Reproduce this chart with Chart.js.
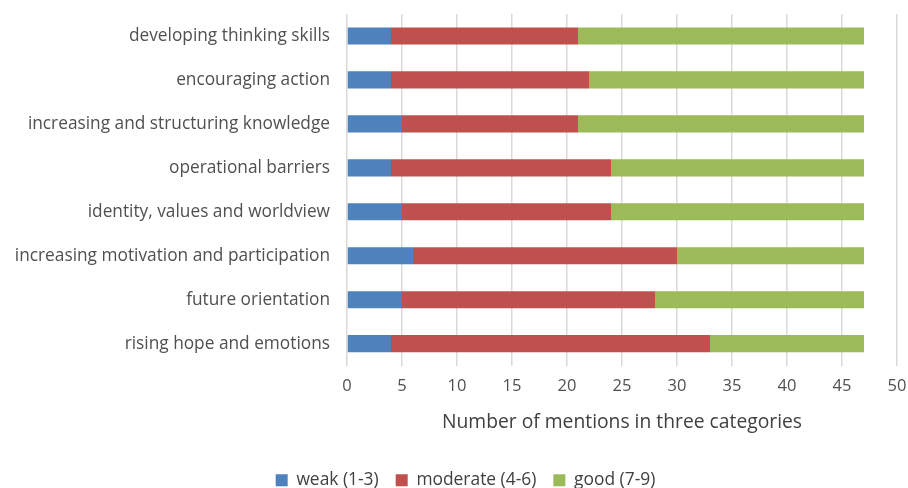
<!DOCTYPE html>
<html>
<head>
<meta charset="utf-8">
<script src="https://cdn.jsdelivr.net/npm/chart.js@4/dist/chart.umd.min.js"></script>
<style>
  html, body { margin: 0; padding: 0; background: #fff; }
  #wrap { width: 908px; height: 488px; }
</style>
</head>
<body>
<div id="wrap"><canvas id="myChart" width="908" height="488"></canvas></div>
<script>
/* data */
const categories = [
  'developing thinking skills',
  'encouraging action',
  'increasing and structuring knowledge',
  'operational barriers',
  'identity, values and worldview',
  'increasing motivation and participation',
  'future orientation',
  'rising hope and emotions'
];
const weak = [4, 4, 5, 4, 5, 6, 5, 4];
const moderate = [17, 18, 16, 20, 19, 24, 23, 29];
const good = [26, 25, 26, 23, 23, 17, 19, 14];
const seriesNames = ['weak (1-3)', 'moderate (4-6)', 'good (7-9)'];
const xTitle = 'Number of mentions in three categories';

const FONT = '"Open Sans", sans-serif';

// legend sits a bit right of centre in the original
const legendShift = {
  id: 'legendShift',
  afterLayout: function (chart) {
    chart.legend.left += 17;
    chart.legend.right += 17;
  }
};

const ctx = document.getElementById('myChart');
var config = {
  type: 'bar',
  data: {
    labels: categories,
    datasets: [
      { label: seriesNames[0], data: weak, backgroundColor: '#4f81bd' },
      { label: seriesNames[1], data: moderate, backgroundColor: '#c0504d' },
      { label: seriesNames[2], data: good, backgroundColor: '#9bbb59' }
    ]
  },
  options: {
    indexAxis: 'y',
    responsive: false,
    animation: false,
    layout: { padding: { top: 14, right: 11, bottom: -11, left: 0 } },
    datasets: { bar: { barPercentage: 0.39, categoryPercentage: 1 } },
    scales: {
      x: {
        stacked: true,
        min: 0,
        max: 50,
        ticks: { stepSize: 5, color: '#505050', font: { family: FONT, size: 16.5 }, padding: 11 },
        grid: { color: '#d9d9d9', lineWidth: 1.5, drawTicks: false },
        border: { display: false },
        title: { display: true, text: xTitle, color: '#404040', font: { family: FONT, size: 19.3 }, padding: { top: 3, bottom: 21 } },
        afterFit: function (scale) { scale.paddingLeft = 0; scale.paddingRight = 0; }
      },
      y: {
        stacked: true,
        ticks: { color: '#505050', font: { family: FONT, size: 17.3 }, padding: 17 },
        grid: { display: false, drawTicks: false },
        border: { display: false },
        afterFit: function (scale) {
          scale.width = 347;
          scale.paddingTop = 0;
          scale.paddingBottom = 0;
        }
      }
    },
    plugins: {
      legend: {
        position: 'bottom',
        labels: { boxWidth: 12, boxHeight: 12, color: '#404040', font: { family: FONT, size: 17.4 }, padding: 17 }
      },
      tooltip: { enabled: false }
    }
  },
  plugins: [legendShift]
};

var myChart = new Chart(ctx, config);
</script>
</body>
</html>
